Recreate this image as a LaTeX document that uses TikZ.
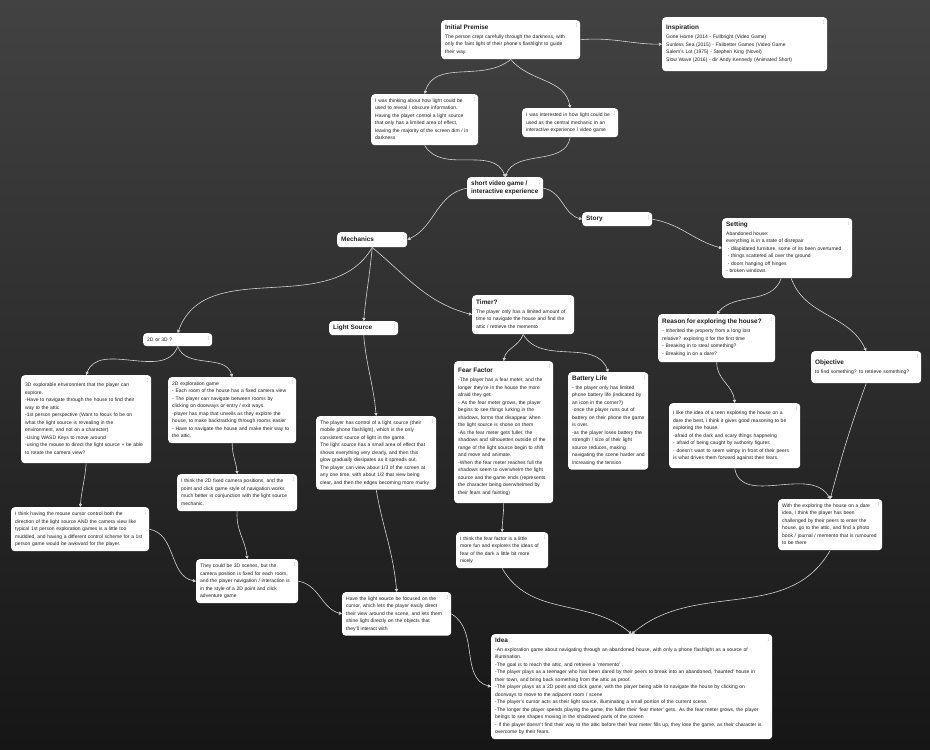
\documentclass[tikz,border=0pt]{standalone}
\usepackage{fontspec}
\setmainfont{Liberation Sans}
\usepackage{xcolor}
\usetikzlibrary{arrows.meta}
\definecolor{BoardTop}{HTML}{424242}
\definecolor{BoardBottom}{HTML}{161616}
\definecolor{CardText}{HTML}{1E1E1E}
\definecolor{CardDots}{HTML}{9A9A9A}
\definecolor{LinkGray}{HTML}{D2D2D2}
\newcommand{\cardhead}{\fontsize{6.4}{8}\selectfont\bfseries}

\begin{document}
\begin{tikzpicture}[
    x=1pt, y=-1pt,
    font=\fontsize{5}{7.5}\selectfont,
    >={Triangle[length=3pt, width=3.2pt]},
    card/.style = {
        rectangle, rounded corners=3.5pt, anchor=north west,
        fill=white, text=CardText, align=left,
        inner xsep=4pt, inner ysep=3pt,
        path picture={
            \foreach \k in {0,1,2}
                \fill[CardDots] ([xshift=-4pt, yshift={-3.5pt-1.3pt*\k}]path picture bounding box.north east) circle (0.4pt);
        }
    },
    link/.style = {->, draw=LinkGray, line width=0.6pt}
]

% ===== BOARD =====
\useasboundingbox (0,0) rectangle (930,750);
\shade[top color=BoardTop, bottom color=BoardBottom] (0,0) rectangle (930,750);

% ===== PREMISE =====
\node[card, text width=131pt, minimum height=39pt] (premise) at (441,20) {%
    \begin{tabular}{@{}l@{}}
    {\cardhead Initial Premise} \\[1.5pt]
    The person crept carefully through the darkness, with \\
    only the faint light of their phone's flashlight to guide \\
    their way.
    \end{tabular}
};

\node[card, text width=157pt, minimum height=54pt] (inspiration) at (662,17) {%
    \begin{tabular}{@{}l@{}}
    {\cardhead Inspiration} \\[1.5pt]
    Gone Home (2014 - Fullbright (Video Game) \\
    Sunless Sea (2015) - Failbetter Games (Video Game \\
    Salem's Lot (1975) - Stephen King (Novel) \\
    Slow Wave (2016) - dir Andy Kennedy (Animated Short)
    \end{tabular}
};

\node[card, text width=99pt, minimum height=50pt] (thinking) at (371,94) {%
    \begin{tabular}{@{}l@{}}
    I was thinking about how light could be \\
    used to reveal / obscure information. \\
    Having the player control a light source \\
    that only has a limited area of effect, \\
    leaving the majority of the screen dim / in \\
    darkness
    \end{tabular}
};

\node[card, text width=88pt, minimum height=29pt] (interested) at (522,108) {%
    \begin{tabular}{@{}l@{}}
    I was interested in how light could be \\
    used as the central mechanic in an \\
    interactive experience / video game
    \end{tabular}
};

\node[card, text width=68pt, minimum height=22pt] (shortvg) at (467,177) {%
    \begin{tabular}{@{}l@{}}
    {\cardhead short video game /} \\
    {\cardhead interactive experience}
    \end{tabular}
};

% ===== STORY SIDE =====
\node[card, text width=62pt, minimum height=14pt] (story) at (582,212) {{\cardhead Story}};

\node[card, text width=122pt, minimum height=60pt] (setting) at (722,218) {%
    \begin{tabular}{@{}l@{}}
    {\cardhead Setting} \\[1.5pt]
    Abandoned house: \\
    everything is in a state of disrepair \\
    \ - dilapidated furniture, some of its been overturned \\
    \ - things scattered all over the ground \\
    \ - doors hanging off hinges \\
    - broken windows
    \end{tabular}
};

\node[card, text width=109pt, minimum height=48pt] (reason) at (658,314) {%
    \begin{tabular}{@{}l@{}}
    {\cardhead Reason for exploring the house?} \\[1.5pt]
    - Inherited the property from a long lost \\
    relative? exploring it for the first time \\
    - Breaking in to steal something? \\
    - Breaking in on a dare?
    \end{tabular}
};

\node[card, text width=102pt, minimum height=32pt] (objective) at (811,351) {%
    \begin{tabular}{@{}l@{}}
    {\cardhead Objective} \\[1.5pt]
    to find something? to retrieve something?
    \end{tabular}
};

\node[card, text width=123pt, minimum height=65pt] (like) at (669,403) {%
    \begin{tabular}{@{}l@{}}
    I like the idea of a teen exploring the house on a \\
    dare the best, i think it gives good reasoning to be \\
    exploring the house. \\
    -afraid of the dark and scary things happneing \\
    - afraid of being caught by authority figures \\
    - doesn't want to seem wimpy in front of their peers \\
    is what drives them forward against their fears.
    \end{tabular}
};

\node[card, text width=96pt, minimum height=51pt] (exploring) at (778,499) {%
    \begin{tabular}{@{}l@{}}
    With the exploring the house on a dare \\
    idea, I think the player has been \\
    challenged by their peers to enter the \\
    house, go to the attic, and find a photo \\
    book / journal / memento that is rumoured \\
    to be there
    \end{tabular}
};

% ===== MECHANICS SIDE =====
\node[card, text width=62pt, minimum height=15pt] (mechanics) at (337,232) {{\cardhead Mechanics}};

\node[card, text width=94pt, minimum height=39pt] (timer) at (472,295) {%
    \begin{tabular}{@{}l@{}}
    {\cardhead Timer?} \\[1.5pt]
    The player only has a limited amount of \\
    time to navigate the house and find the \\
    attic / retrieve the memento
    \end{tabular}
};

\node[card, text width=61pt, minimum height=14pt] (lightsrc) at (329,321) {{\cardhead Light Source}};

\node[card, text width=61pt, minimum height=13pt] (twod) at (143,333) {2D or 3D ?};

\node[card, text width=122pt, minimum height=88pt] (threed) at (21,375) {%
    \begin{tabular}{@{}l@{}}
    3D explorable environment that the player can \\
    explore. \\
    -Have to navigate through the house to find their \\
    way to the attic \\
    -1st person perspective (Want to focus fo be on \\
    what the light source is revealing in the \\
    environment, and not on a character) \\
    -Using WASD Keys to move around \\
    -using the mouse to direct the light source + be able \\
    to rotate the camera view?
    \end{tabular}
};

\node[card, text width=120pt, minimum height=66pt] (twodexp) at (168,377) {%
    \begin{tabular}{@{}l@{}}
    2D exploration game \\
    - Each room of the house has a fixed camera view \\
    - The player can navigate between rooms by \\
    clicking on doorways or entry / exit ways. \\
    -player has map that unveils as they explore the \\
    house, to make backtracking through rooms easier \\
    - Have to navigate the house and make their way to \\
    the attic.
    \end{tabular}
};

\node[card, text width=112pt, minimum height=73pt] (lstext) at (316,416) {%
    \begin{tabular}{@{}l@{}}
    The player has control of a light source (their \\
    mobile phone flashlight), which is the only \\
    consistent source of light in the game. \\
    The light source has a small area of effect that \\
    shows everything very clearly, and then this \\
    glow gradually dissipates as it spreads out. \\
    The player can view about 1/3 of the screen at \\
    any one time, with about 1/2 that view being \\
    clear, and then the edges becoming more murky
    \end{tabular}
};

\node[card, text width=91pt, minimum height=142pt] (fear) at (454,361) {%
    \begin{tabular}{@{}l@{}}
    {\cardhead Fear Factor} \\[1.5pt]
    -The player has a fear meter, and the \\
    longer they're in the house the more \\
    afraid they get. \\
    - As the fear meter grows, the player \\
    begins to see things lurking in the \\
    shadows, forms that disappear when \\
    the light source is shone on them \\
    -As the fear meter gets fuller, the \\
    shadows and silhouettes outside of the \\
    range of the light source begin to shift \\
    and move and animate. \\
    -When the fear meter reaches full the \\
    shadows seem to overwhelm the light \\
    source and the game ends (represents \\
    the character being overwhelmed by \\
    their fears and fainting)
    \end{tabular}
};

\node[card, text width=72pt, minimum height=97pt] (battery) at (568,372) {%
    \begin{tabular}{@{}l@{}}
    {\cardhead Battery Life} \\[1.5pt]
    - the player only has limited \\
    phone battery life (indicated by \\
    an icon in the corner?) \\
    -once the player runs out of \\
    battery on their phone the game \\
    is over. \\
    -as the player loses battery the \\
    strength / size of their light \\
    source reduces, making \\
    navigating the scene harder and \\
    increasing the tension
    \end{tabular}
};

% ===== LOWER NOTES =====
\node[card, text width=130pt, minimum height=44pt] (mouse) at (11,507) {%
    \begin{tabular}{@{}l@{}}
    I think having the mouse cursor control both the \\
    direction of the light source AND the camera view like \\
    typical 1st person exploration games is a little too \\
    muddled, and having a different control scheme for a 1st \\
    person game would be awkward for the player.
    \end{tabular}
};

\node[card, text width=112pt, minimum height=37pt] (fixed) at (177,474) {%
    \begin{tabular}{@{}l@{}}
    I think the 2D fixed camera positions, and the \\
    point and click game style of navigation works \\
    much better in conjunction with the light source \\
    mechanic.
    \end{tabular}
};

\node[card, text width=94pt, minimum height=44pt] (could) at (196,559) {%
    \begin{tabular}{@{}l@{}}
    They could be 3D scenes, but the \\
    camera position is fixed for each room, \\
    and the player navigation / interaction is \\
    in the style of a 2D point and click \\
    adventure game
    \end{tabular}
};

\node[card, text width=84pt, minimum height=36pt] (fearfun) at (456,532) {%
    \begin{tabular}{@{}l@{}}
    I think the fear factor is a little \\
    more fun and explores the ideas of \\
    fear of the dark a little bit more \\
    nicely
    \end{tabular}
};

\node[card, text width=101pt, minimum height=43pt] (have) at (342,592) {%
    \begin{tabular}{@{}l@{}}
    Have the light source be focused on the \\
    cursor, which lets the player easily direct \\
    their view around the scene, and lets them \\
    shine light directly on the objects that \\
    they'll interact with
    \end{tabular}
};

% ===== IDEA =====
\node[card, text width=273pt, minimum height=105pt] (idea) at (491,634) {%
    \begin{tabular}{@{}l@{}}
    {\cardhead Idea} \\[1.5pt]
    -An exploration game about navigating through an abandoned house, with only a phone flashlight as a source of \\
    illumination. \\
    -The goal is to reach the attic, and retrieve a `memento' . \\
    -The player plays as a teenager who has been dared by their peers to break into an abandoned, `haunted' house in \\
    their town, and bring back something from the attic as proof. \\
    -The player plays as a 2D point and click game, with the player being able to navigate the house by clicking on \\
    doorways to move to the adjacent room / scene \\
    -The player's cursor acts as their light source, illuminating a small portion of the current scene. \\
    -The longer the player spends playing the game, the fuller their `fear meter' gets. As the fear meter grows, the player \\
    beings to see shapes moving in the shadowed parts of the screen \\
    - If the player doesn't find their way to the attic before their fear meter fills up, they lose the game, as their character is \\
    overcome by their fears.
    \end{tabular}
};

% ===== LINKS =====
\draw[link] (premise.east) to[out=5, in=180] (inspiration.west);
\draw[link] (premise.south) to[out=-140, in=75] (thinking.north);
\draw[link] (premise.south) to[out=-50, in=100] (interested.north);
\draw[link] (thinking.south) to[out=-60, in=110] (shortvg.north);
\draw[link] (interested.south) to[out=-100, in=70] (shortvg.north);
\draw[link] (shortvg.east) to[out=-10, in=165] (story.west);
\draw[link] (shortvg.west) to[out=-170, in=25] (mechanics.east);
\draw[link] (story.east) to[out=-10, in=165] (setting.west);
\draw[link] ([xshift=-6pt]setting.south) to[out=-110, in=50] (reason.north);
\draw[link] ([xshift=4pt]setting.south) to[out=-70, in=115] (objective.north);
\draw[link] (mechanics.south) to[out=-120, in=70] (twod.north);
\draw[link] (mechanics.south) to[out=-95, in=85] (lightsrc.north);
\draw[link] (mechanics.south) to[out=-40, in=165] (timer.west);
\draw[link] (timer.south) to[out=-110, in=80] (fear.north);
\draw[link] (timer.south) to[out=-60, in=110] (battery.north);
\draw[link] (twod.south) to[out=-110, in=70] (threed.north);
\draw[link] (twod.south) to[out=-70, in=105] (twodexp.north);
\draw[link] (lightsrc.south) to[out=-85, in=95] (lstext.north);
\draw[link] (threed.south) to[out=-95, in=85] (mouse.north);
\draw[link] (twodexp.south) to[out=-90, in=95] (fixed.north);
\draw[link] (fixed.south) to[out=-95, in=95] (could.north);
\draw[link] (mouse.east) to[out=-10, in=170] (could.west);
\draw[link] (could.east) to[out=-10, in=165] (have.west);
\draw[link] (lstext.south) to[out=-80, in=95] (have.north);
\draw[link] (fear.south) to[out=-90, in=90] (fearfun.north);
\draw[link] (reason.south) to[out=-90, in=95] (like.north);
\draw[link] (like.south) to[out=-80, in=120] (exploring.north);
\draw[link] (objective.south) to[out=-110, in=75] (exploring.north);
\draw[link] (exploring.south) to[out=-120, in=40] (idea.north);
\draw[link] (fearfun.south) to[out=-60, in=140] (idea.north);
\draw[link] (have.east) to[out=-30, in=165] (idea.west);
\end{tikzpicture}
\end{document}
